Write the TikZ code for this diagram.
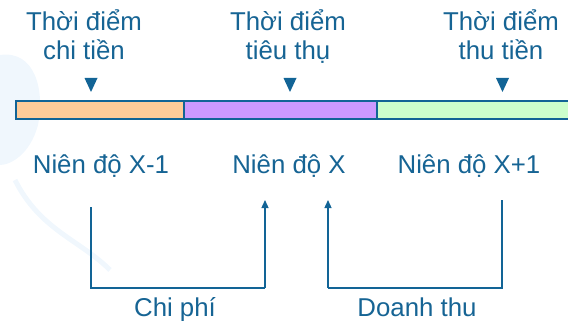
\documentclass[tikz,border=0pt]{standalone}
\usepackage{fontspec}
\setmainfont{Liberation Sans}
\usetikzlibrary{arrows.meta}
\definecolor{txt}{RGB}{22,100,148}
\definecolor{edge}{RGB}{18,100,150}
\definecolor{orangef}{RGB}{255,204,153}
\definecolor{purplef}{RGB}{204,153,255}
\definecolor{greenf}{RGB}{204,255,204}
\definecolor{deco}{RGB}{240,247,253}
\tikzset{
  lbl/.style={anchor=base,inner sep=0pt,text=txt,font=\fontsize{25.8}{29}\selectfont},
  seg/.style={draw=edge,line width=1.8pt},
  pointer/.style={fill=edge,draw=none},
  thickline/.style={draw=edge,line width=2.6pt},
  arrowline/.style={draw=edge,line width=1.3pt,-{Triangle[width=7pt,length=8pt]}}
}
\begin{document}
\begin{tikzpicture}[x=1pt,y=-1pt]
\useasboundingbox (0,0) rectangle (568,321);
% faint background decoration
\fill[deco] (0,55) .. controls (35,50) and (45,90) .. (38,125) .. controls (30,155) and (10,165) .. (0,165) -- cycle;
\draw[deco,line width=5pt] (15,180) .. controls (40,230) and (80,240) .. (110,270);
% bar
\path[seg,fill=orangef] (16,101) rectangle (184,119);
\path[seg,fill=purplef] (184,101) rectangle (377,119);
\path[seg,fill=greenf] (377,101) rectangle (570,119);
% top labels
\node[lbl] (t1a) at (84,31) {Thời điểm};
\node[lbl] (t1b) at (84,60) {chi tiền};
\node[lbl] (t2a) at (288,31) {Thời điểm};
\node[lbl] (t2b) at (288,60) {tiêu thụ};
\node[lbl] (t3a) at (501,31) {Thời điểm};
\node[lbl] (t3b) at (501,60) {thu tiền};
% markers
\path[pointer] (84.5,78) -- (97.5,78) -- (91,92) -- cycle;
\path[pointer] (283.5,78) -- (296.5,78) -- (290,92) -- cycle;
\path[pointer] (496,78) -- (509,78) -- (502.5,92) -- cycle;
% year labels
\node[lbl] (y1) at (101,173) {Niên độ X-1};
\node[lbl] (y2) at (289,173) {Niên độ X};
\node[lbl] (y3) at (469,173) {Niên độ X+1};
% connectors
\coordinate (c1) at (91,207);
\coordinate (c2) at (91,288);
\coordinate (c3) at (265,288);
\coordinate (c4) at (265,200);
\draw[thickline] (c1) -- (c2) -- (c3);
\draw[arrowline] (c3) -- (c4);
\coordinate (d1) at (502,200);
\coordinate (d2) at (502,288);
\coordinate (d3) at (328,288);
\coordinate (d4) at (328,200);
\draw[thickline] (d1) -- (d2) -- (d3);
\draw[arrowline] (d3) -- (d4);
\node[lbl] (cp) at (175,316) {Chi phí};
\node[lbl] (dt) at (417,316) {Doanh thu};
\end{tikzpicture}
\end{document}
